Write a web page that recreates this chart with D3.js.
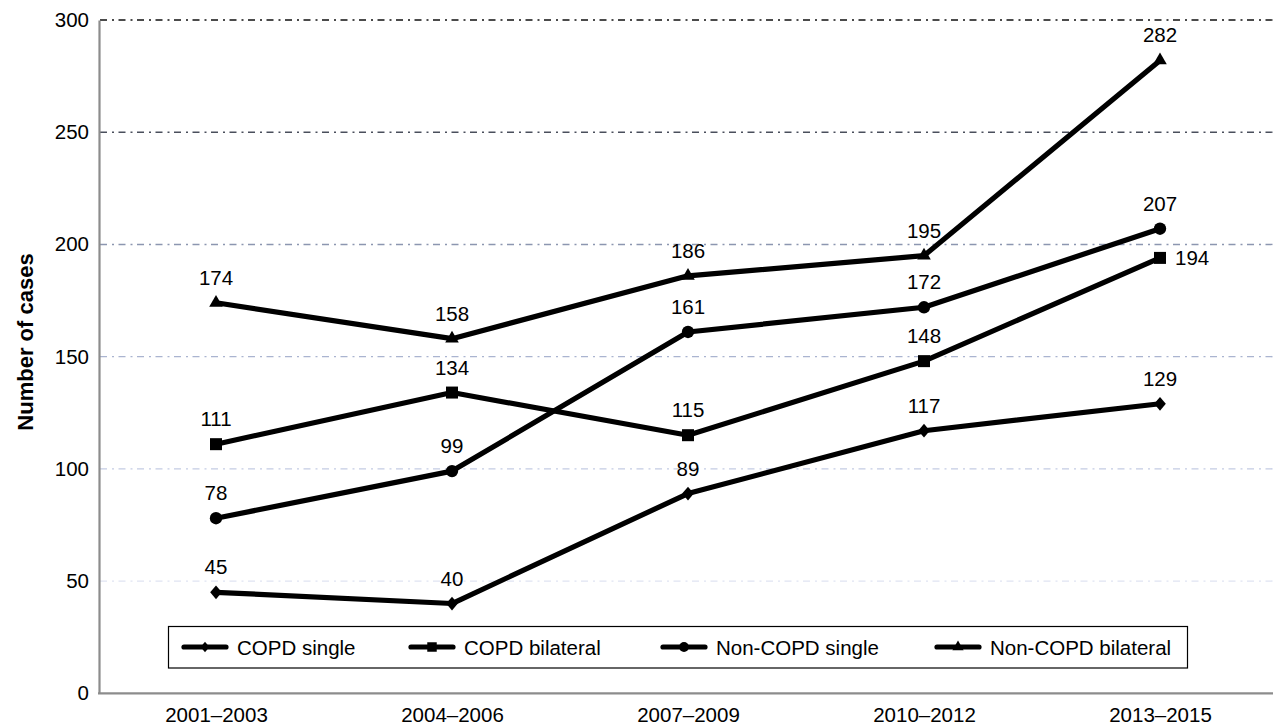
<!DOCTYPE html>
<html>
<head>
<meta charset="utf-8">
<script src="https://cdn.jsdelivr.net/npm/d3@7"></script>
<style>
html,body{margin:0;padding:0;background:#fff;}
svg{display:block;font-family:"Liberation Sans",Arial,sans-serif;}
</style>
</head>
<body>
<svg id="chart" width="1273" height="725"></svg>
<script>
const periods = ["2001\u20132003","2004\u20132006","2007\u20132009","2010\u20132012","2013\u20132015"];
const copdSingle = [45, 40, 89, 117, 129];
const copdBilateral = [111, 134, 115, 148, 194];
const nonCopdSingle = [78, 99, 161, 172, 207];
const nonCopdBilateral = [174, 158, 186, 195, 282];
const seriesNames = ["COPD single","COPD bilateral","Non-COPD single","Non-COPD bilateral"];
const yTicks = [0, 50, 100, 150, 200, 250, 300];
const yTitle = "Number of cases";

// custom diamond (width/height ratio ~0.85)
const symbolDiamondWide = {
  draw(ctx, size) {
    const h = Math.sqrt(size / 0.85) / 2;
    const w = h * 0.85;
    ctx.moveTo(0, -h); ctx.lineTo(w, 0); ctx.lineTo(0, h); ctx.lineTo(-w, 0); ctx.closePath();
  }
};

const series = [
  {name: seriesNames[0], values: copdSingle, sym: symbolDiamondWide, size: 160, lsize: 90},
  {name: seriesNames[1], values: copdBilateral, sym: d3.symbolSquare, size: 144, lsize: 90, lastRight: true},
  {name: seriesNames[2], values: nonCopdSingle, sym: d3.symbolCircle, size: 120, lsize: 75},
  {name: seriesNames[3], values: nonCopdBilateral, sym: d3.symbolTriangle, size: 80, lsize: 55}
];

const svg = d3.select("#chart");
const x = d3.scalePoint().domain(periods).range([216, 1160]);
const y = d3.scaleLinear().domain([0, 300]).range([693.3, 20]);

const gridColor = d3.scaleLinear()
  .domain([50,100,150,200,250,300])
  .range(["#dfe4f2","#c4cce4","#aab4d0","#8c96b0","#4a4f5c","#111111"]);

// gridlines
svg.append("g").selectAll("line")
  .data(yTicks.filter(t => t > 0))
  .join("line")
  .attr("x1", 100).attr("x2", 1273)
  .attr("y1", d => y(d)).attr("y2", d => y(d))
  .attr("stroke", d => gridColor(d))
  .attr("stroke-width", 1.4)
  .attr("stroke-dasharray", "7,5,2,4.5");

// y axis
const yAxis = d3.axisLeft(y).tickValues(yTicks).tickSize(0).tickPadding(10);
const gy = svg.append("g").attr("transform", "translate(99,0)").call(yAxis);
gy.select(".domain").attr("stroke", "#8c8c8c").attr("stroke-width", 2.2);
gy.selectAll("text").attr("font-size", 20.5).attr("fill", "#000")
  .attr("font-family", "Liberation Sans, Arial, sans-serif");

// x axis
const xAxis = d3.axisBottom(x).tickSize(0).tickPadding(14);
const gx = svg.append("g").attr("transform", "translate(0,693.3)").call(xAxis);
gx.select(".domain").attr("d", "M98,0H1273").attr("stroke", "#8c8c8c").attr("stroke-width", 2.2);
gx.selectAll("text").attr("font-size", 20.5).attr("fill", "#000")
  .attr("font-family", "Liberation Sans, Arial, sans-serif");

// y title
svg.append("text")
  .attr("transform", "translate(33,342) rotate(-90)")
  .attr("text-anchor", "middle")
  .attr("font-size", 22)
  .attr("font-weight", "bold")
  .text(yTitle);

// lines
const line = d3.line().x((d,i) => x(periods[i])).y(d => y(d));
series.forEach(s => {
  svg.append("path")
    .datum(s.values)
    .attr("d", line)
    .attr("fill", "none")
    .attr("stroke", "#000")
    .attr("stroke-width", 5.2)
    .attr("stroke-linejoin", "round");
});
series.forEach(s => {
  const sym = d3.symbol().type(s.sym).size(s.size);
  svg.append("g").selectAll("path")
    .data(s.values)
    .join("path")
    .attr("d", sym)
    .attr("transform", (d,i) => `translate(${x(periods[i])},${y(d)})`)
    .attr("fill", "#000");
  const isRight = i => s.lastRight && i === s.values.length - 1;
  svg.append("g").selectAll("text")
    .data(s.values)
    .join("text")
    .attr("x", (d,i) => isRight(i) ? x(periods[i]) + 15 : x(periods[i]))
    .attr("y", (d,i) => isRight(i) ? y(d) + 7.5 : y(d) - 18)
    .attr("text-anchor", (d,i) => isRight(i) ? "start" : "middle")
    .attr("font-size", 20.5)
    .attr("fill", "#000")
    .text(d => d);
});

// legend
const lg = svg.append("g");
lg.append("rect").attr("x", 168.5).attr("y", 626.5).attr("width", 1019).attr("height", 41.5)
  .attr("fill", "#fff").attr("stroke", "#000").attr("stroke-width", 1.2);
const legendX = [182, 409, 661, 935];
series.forEach((s, i) => {
  const g = lg.append("g").attr("transform", `translate(${legendX[i]},647)`);
  g.append("line").attr("x1", 2).attr("x2", 44).attr("y1", 0).attr("y2", 0)
    .attr("stroke", "#000").attr("stroke-width", 5.2).attr("stroke-linecap", "round");
  g.append("path").attr("d", d3.symbol().type(s.sym).size(s.lsize))
    .attr("transform", "translate(23,0)")
    .attr("fill", "#000");
  g.append("text").attr("x", 55).attr("y", 7.5)
    .attr("font-size", 20.5).attr("fill", "#000").text(s.name);
});
</script>
</body>
</html>
